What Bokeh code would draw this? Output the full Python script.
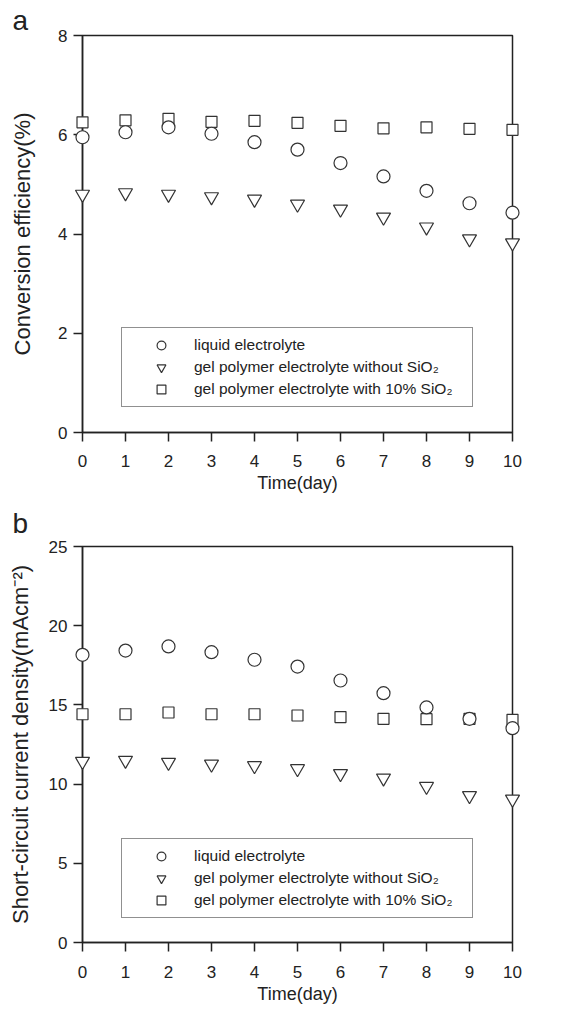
from bokeh.plotting import figure
from bokeh.models import Legend, LegendItem, Range1d, FixedTicker
from bokeh.layouts import column
from bokeh.embed import file_html
from bokeh.resources import INLINE

days = list(range(11))
x_ticks = list(range(11))

eff_liquid = [5.95, 6.05, 6.15, 6.02, 5.85, 5.70, 5.43, 5.16, 4.87, 4.62, 4.43]
eff_gel = [4.80, 4.83, 4.80, 4.75, 4.70, 4.60, 4.50, 4.34, 4.14, 3.90, 3.82]
eff_sio2 = [6.25, 6.29, 6.32, 6.26, 6.28, 6.24, 6.18, 6.13, 6.15, 6.12, 6.10]
eff_ticks = [0, 2, 4, 6, 8]

jsc_liquid = [18.16, 18.43, 18.69, 18.33, 17.85, 17.42, 16.54, 15.74, 14.84, 14.12, 13.53]
jsc_gel = [11.43, 11.50, 11.37, 11.26, 11.16, 10.97, 10.66, 10.38, 9.85, 9.27, 9.05]
jsc_sio2 = [14.41, 14.41, 14.52, 14.41, 14.41, 14.33, 14.23, 14.12, 14.10, 14.12, 14.06]
jsc_ticks = [0, 5, 10, 15, 20, 25]

labels = ["liquid electrolyte",
          "gel polymer electrolyte without SiO\u2082",
          "gel polymer electrolyte with 10% SiO\u2082"]

FONT = "Liberation Sans"
INK = "#222222"


def make_panel(letter, ylabel, ymax, yticks, liquid, gel, sio2,
               frame_h, top_b, bottom_b, ylabel_standoff, legend_loc,
               letter_standoff, xlab_standoff, xtitle_standoff):
    p = figure(frame_width=430, frame_height=frame_h,
               x_range=Range1d(0, 10), y_range=Range1d(0, ymax),
               output_backend="svg", toolbar_location=None,
               min_border_left=82, min_border_right=40,
               min_border_top=top_b, min_border_bottom=bottom_b)
    p.title.text = letter
    p.title.text_font = FONT
    p.title.text_font_size = "28px"
    p.title.text_font_style = "normal"
    p.title.text_color = INK
    p.title.text_line_height = 1.0
    p.title.align = "left"
    p.title.offset = -70
    p.title.standoff = letter_standoff
    p.grid.visible = False
    p.outline_line_color = INK
    p.outline_line_width = 1.5
    p.xaxis.ticker = FixedTicker(ticks=x_ticks)
    p.yaxis.ticker = FixedTicker(ticks=yticks)
    p.xaxis.axis_label = "Time(day)"
    p.yaxis.axis_label = ylabel
    for ax in (p.xaxis[0], p.yaxis[0]):
        ax.major_tick_out = 9
        ax.major_tick_in = 0
        ax.minor_tick_out = 0
        ax.minor_tick_in = 0
        ax.axis_line_width = 1.5
        ax.axis_line_color = INK
        ax.major_tick_line_width = 1.5
        ax.major_tick_line_color = INK
        ax.major_label_text_font = FONT
        ax.major_label_text_font_size = "17px"
        ax.major_label_text_color = INK
        ax.axis_label_text_font = FONT
        ax.axis_label_text_font_style = "normal"
        ax.axis_label_text_color = INK
    p.xaxis.axis_label_text_font_size = "18px"
    p.yaxis.axis_label_text_font_size = "22px"
    p.xaxis.major_label_standoff = xlab_standoff
    p.xaxis.axis_label_standoff = xtitle_standoff
    p.yaxis.major_label_standoff = 6
    p.yaxis.axis_label_standoff = ylabel_standoff

    style = dict(fill_color="white", line_color="#333333", line_width=1.2, level="overlay")
    r_gel = p.scatter(days, gel, marker="inverted_triangle", size=14, **style)
    r_sio2 = p.scatter(days, sio2, marker="square", size=11, **style)
    r_liq = p.scatter(days, liquid, marker="circle", size=13, **style)

    legend = Legend(items=[LegendItem(label=labels[0], renderers=[r_liq]),
                           LegendItem(label=labels[1], renderers=[r_gel]),
                           LegendItem(label=labels[2], renderers=[r_sio2])],
                    location=legend_loc, orientation="vertical",
                    border_line_color=INK, border_line_width=1.2,
                    background_fill_color="white", background_fill_alpha=1,
                    padding=6, spacing=0, margin=0,
                    glyph_width=66, glyph_height=22, label_standoff=0,
                    label_height=20, label_width=272,
                    label_text_font=FONT, label_text_font_size="15.5px",
                    label_text_color=INK)
    p.add_layout(legend)
    return p


pa = make_panel("a", "Conversion efficiency(%)", 8, eff_ticks,
                eff_liquid, eff_gel, eff_sio2,
                397, 35, 66, 20, (39, 25), 0, 13, 3)
pb = make_panel("b", "Short-circuit current density(mAcm\u207b\u00b2)", 25, jsc_ticks,
                jsc_liquid, jsc_gel, jsc_sio2,
                396, 47, 60, 13, (39, 24), 15, 14, 3)

layout = column(pa, pb, spacing=0)
open("out.html", "w").write(file_html(layout, INLINE))
